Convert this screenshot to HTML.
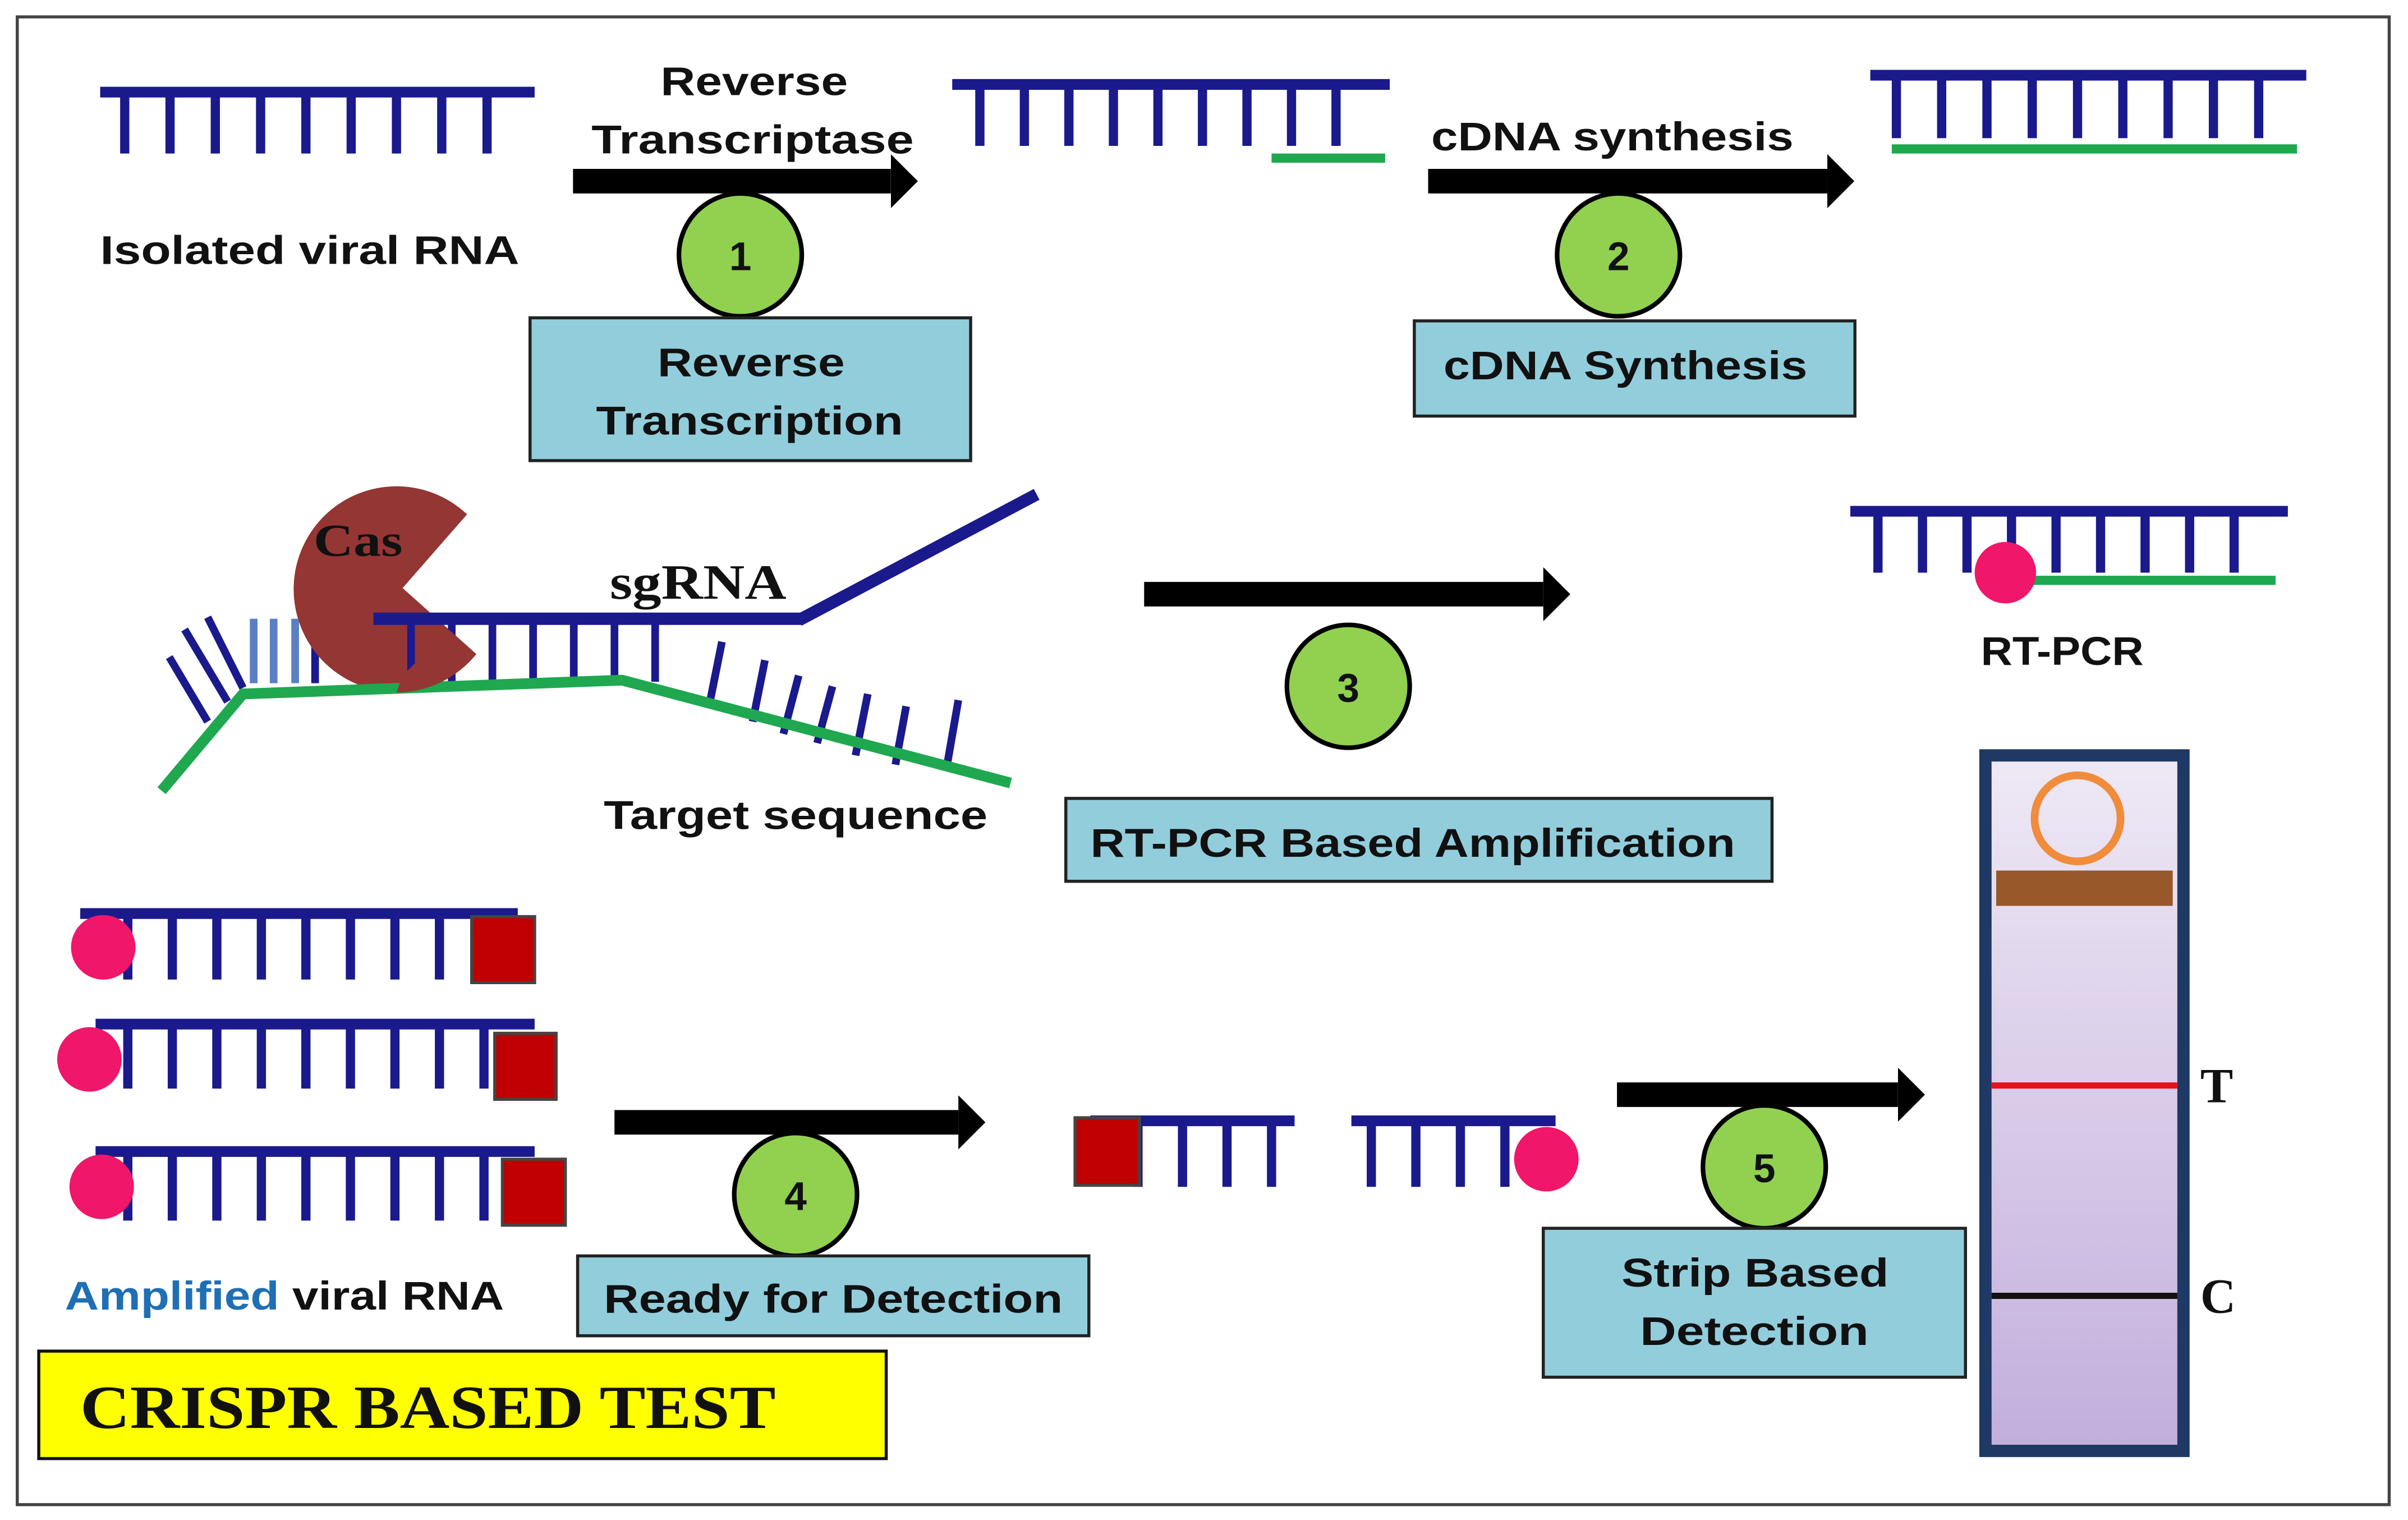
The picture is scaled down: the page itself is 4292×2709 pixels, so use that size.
<!DOCTYPE html>
<html><head><meta charset="utf-8"><style>
html,body{margin:0;padding:0;background:#fff;}
svg{display:block;}
.t{font-family:"Liberation Sans",Arial,sans-serif;font-weight:bold;font-size:26px;fill:#111;}
.s{font-family:"Liberation Serif","Times New Roman",serif;font-weight:bold;fill:#111;}
</style></head><body>
<svg width="4292" height="2709" viewBox="0 0 1568 990" xmlns="http://www.w3.org/2000/svg">
<defs>
<marker id="ah" markerWidth="2" markerHeight="2.2" refX="0" refY="1.1" orient="auto" markerUnits="strokeWidth"><path d="M0,0 L1.1,1.1 L0,2.2Z" fill="#000"/></marker>
<linearGradient id="sg" x1="0" y1="0" x2="0" y2="1"><stop offset="0" stop-color="#efe9f5"/><stop offset="1" stop-color="#c2aedc"/></linearGradient>
</defs>
<rect x="0" y="0" width="1568" height="990" fill="#fff"/>
<rect x="11" y="11" width="1545" height="969" fill="none" stroke="#444" stroke-width="2"/>

<g stroke="#1a1a8c" fill="none">
<line x1="65" y1="60" x2="348" y2="60" stroke-width="7"/>
<line x1="78" y1="80" x2="340" y2="80" stroke-width="40" stroke-dasharray="6 23.5"/>
<line x1="620" y1="55" x2="905" y2="55" stroke-width="7"/>
<line x1="635" y1="75" x2="895" y2="75" stroke-width="40" stroke-dasharray="6 23"/>
<line x1="1218" y1="49" x2="1502" y2="49" stroke-width="7"/>
<line x1="1232" y1="70" x2="1495" y2="70" stroke-width="40" stroke-dasharray="6 23.5"/>
<line x1="1205" y1="333" x2="1490" y2="333" stroke-width="7"/>
<line x1="1220" y1="353" x2="1480" y2="353" stroke-width="40" stroke-dasharray="6 23"/>
</g>
<g stroke="#1fa84f">
<line x1="828" y1="103" x2="902" y2="103" stroke-width="6"/>
<line x1="1232" y1="97" x2="1496" y2="97" stroke-width="6"/>
<line x1="1310" y1="378" x2="1482" y2="378" stroke-width="6"/>
</g>
<circle cx="1306" cy="373" r="20" fill="#f0166a"/>

<text class="t" x="65" y="172" textLength="273" lengthAdjust="spacingAndGlyphs">Isolated viral RNA</text>
<text class="t" x="430" y="62" textLength="122" lengthAdjust="spacingAndGlyphs">Reverse</text>
<text class="t" x="385" y="100" textLength="210" lengthAdjust="spacingAndGlyphs">Transcriptase</text>
<text class="t" x="932" y="98" textLength="236" lengthAdjust="spacingAndGlyphs">cDNA synthesis</text>
<text class="t" x="1290" y="433" textLength="106" lengthAdjust="spacingAndGlyphs">RT-PCR</text>

<g stroke="#000" stroke-width="16" marker-end="url(#ah)">
<line x1="373" y1="118" x2="580" y2="118"/>
<line x1="930" y1="118" x2="1190" y2="118"/>
<line x1="745" y1="387" x2="1005" y2="387"/>
<line x1="400" y1="731" x2="624" y2="731"/>
<line x1="1053" y1="713" x2="1236" y2="713"/>
</g>

<g fill="#92d050" stroke="#000" stroke-width="3">
<circle cx="482" cy="166" r="40"/>
<circle cx="1054" cy="166" r="40"/>
<circle cx="878" cy="447" r="40"/>
<circle cx="518" cy="778" r="40"/>
<circle cx="1149" cy="760" r="40"/>
</g>
<g class="t" text-anchor="middle">
<text x="482" y="176">1</text><text x="1054" y="176">2</text><text x="878" y="457">3</text><text x="518" y="788">4</text><text x="1149" y="770">5</text>
</g>

<g fill="#92cddc" stroke="#222" stroke-width="2">
<rect x="345" y="207" width="287" height="93"/>
<rect x="921" y="209" width="287" height="62"/>
<rect x="694" y="520" width="460" height="54"/>
<rect x="376" y="818" width="333" height="52"/>
<rect x="1005" y="800" width="275" height="97"/>
</g>
<g class="t">
<text x="428" y="245" textLength="122" lengthAdjust="spacingAndGlyphs">Reverse</text>
<text x="388" y="283" textLength="200" lengthAdjust="spacingAndGlyphs">Transcription</text>
<text x="940" y="247" textLength="237" lengthAdjust="spacingAndGlyphs">cDNA Synthesis</text>
<text x="710" y="558" textLength="420" lengthAdjust="spacingAndGlyphs">RT-PCR Based Amplification</text>
<text x="393" y="855" textLength="299" lengthAdjust="spacingAndGlyphs">Ready for Detection</text>
<text x="1056" y="838" textLength="174" lengthAdjust="spacingAndGlyphs">Strip Based</text>
<text x="1068" y="876" textLength="149" lengthAdjust="spacingAndGlyphs">Detection</text>
</g>

<g stroke="#1a1a8c" fill="none">
<g stroke-width="5">
<line x1="110" y1="428" x2="135" y2="470"/>
<line x1="120" y1="410" x2="148" y2="457"/>
<line x1="135" y1="402" x2="158" y2="448"/>
<line x1="470" y1="418" x2="462" y2="458"/>
<line x1="498" y1="430" x2="490" y2="470"/>
<line x1="520" y1="440" x2="510" y2="478"/>
<line x1="542" y1="447" x2="532" y2="484"/>
<line x1="565" y1="452" x2="557" y2="492"/>
<line x1="590" y1="460" x2="583" y2="498"/>
<line x1="624" y1="456" x2="616" y2="502"/>
</g>
<g stroke="#5b7fc4" stroke-width="5">
<line x1="165" y1="403" x2="165" y2="445"/>
<line x1="178" y1="403" x2="178" y2="445"/>
<line x1="192" y1="403" x2="192" y2="445"/>
</g>
<line x1="205" y1="403" x2="205" y2="445" stroke-width="5"/>
</g>
<path d="M262,383 L304,335 A67,67 0 1 0 310,426 Z" fill="#943634"/>
<g stroke="#1a1a8c" fill="none">
<line x1="243" y1="403" x2="522" y2="403" stroke-width="8"/>
<line x1="520" y1="404" x2="675" y2="322" stroke-width="8"/>
<line x1="265" y1="424" x2="450" y2="424" stroke-width="40" stroke-dasharray="5 21.5"/>
</g>
<polyline points="105,515 158,452 405,443 658,510" fill="none" stroke="#1fa84f" stroke-width="7"/>
<path d="M292,410 L310,426 A67,67 0 0 1 258,451 L262,440Z" fill="#943634"/>
<text class="s" x="204" y="362" font-size="30" textLength="58" lengthAdjust="spacingAndGlyphs">Cas</text>
<text class="s" x="397" y="390" font-size="32" textLength="115" lengthAdjust="spacingAndGlyphs">sgRNA</text>
<text class="t" x="393" y="540" textLength="250" lengthAdjust="spacingAndGlyphs">Target sequence</text>

<g stroke="#1a1a8c" fill="none">
<line x1="52" y1="595" x2="337" y2="595" stroke-width="7"/>
<line x1="80" y1="617" x2="305" y2="617" stroke-width="42" stroke-dasharray="6 23"/>
<line x1="62" y1="667" x2="348" y2="667" stroke-width="7"/>
<line x1="80" y1="688" x2="320" y2="688" stroke-width="42" stroke-dasharray="6 23"/>
<line x1="62" y1="750" x2="348" y2="750" stroke-width="7"/>
<line x1="80" y1="773" x2="325" y2="773" stroke-width="44" stroke-dasharray="6 23"/>
<line x1="710" y1="730" x2="843" y2="730" stroke-width="7"/>
<line x1="738" y1="752" x2="843" y2="752" stroke-width="42" stroke-dasharray="6 23"/>
<line x1="880" y1="730" x2="1013" y2="730" stroke-width="7"/>
<line x1="890" y1="752" x2="1000" y2="752" stroke-width="42" stroke-dasharray="6 23"/>
</g>
<g fill="#c00000" stroke="#444" stroke-width="2">
<rect x="307" y="597" width="41" height="43"/>
<rect x="322" y="673" width="40" height="43"/>
<rect x="327" y="755" width="41" height="43"/>
<rect x="700" y="728" width="42" height="44"/>
</g>
<g fill="#f0166a">
<circle cx="67" cy="617" r="21"/>
<circle cx="58" cy="690" r="21"/>
<circle cx="66" cy="773" r="21"/>
<circle cx="1007" cy="755" r="21"/>
</g>
<text class="t" x="42" y="853" textLength="286" lengthAdjust="spacingAndGlyphs"><tspan fill="#1f6fb5">Amplified</tspan> viral RNA</text>
<rect x="25" y="880" width="552" height="70" fill="#ffff00" stroke="#111" stroke-width="2"/>
<text class="s" x="52" y="930" font-size="40" font-weight="normal" textLength="453" lengthAdjust="spacingAndGlyphs">CRISPR BASED TEST</text>

<rect x="1293" y="492" width="129" height="453" fill="url(#sg)" stroke="#1f3864" stroke-width="8"/>
<circle cx="1353" cy="533" r="28" fill="none" stroke="#f08c3c" stroke-width="5"/>
<rect x="1300" y="567" width="115" height="23" fill="#99582a"/>
<line x1="1297" y1="707" x2="1418" y2="707" stroke="#e8101a" stroke-width="4"/>
<line x1="1297" y1="844" x2="1418" y2="844" stroke="#111" stroke-width="4"/>
<text class="s" x="1433" y="718" font-size="32">T</text>
<text class="s" x="1433" y="855" font-size="32">C</text>
</svg>
</body></html>
